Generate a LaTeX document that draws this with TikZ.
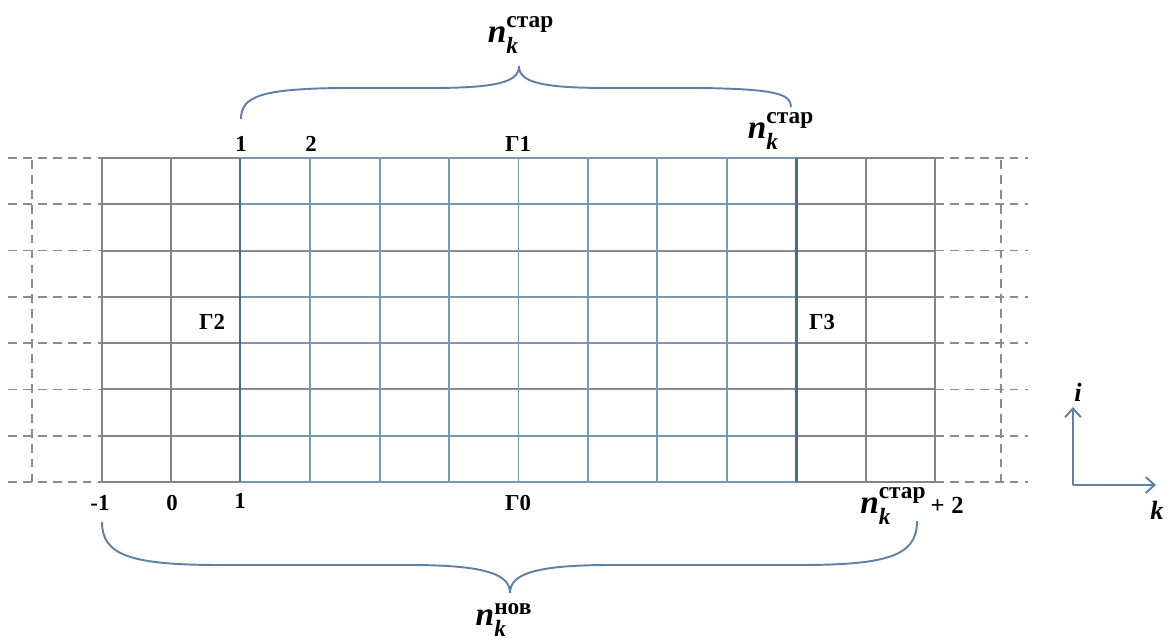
\documentclass[tikz,border=0pt]{standalone}
\usepackage{amsmath}
\usepackage{fontspec}
\setmainfont{Liberation Serif}
\usetikzlibrary{arrows.meta}
\definecolor{gridgray}{HTML}{858585}
\definecolor{gridblue}{HTML}{7C96B6}
\definecolor{edgeblue}{HTML}{4E6A8F}
\definecolor{dashgray}{HTML}{8C8C8C}
\definecolor{bracecol}{HTML}{5F80A7}
\newcommand{\nidx}[1]{$\textbf{\textit{n}}_{\textbf{\textit{k}}}^{\textbf{#1}}$}

\begin{document}
\begin{tikzpicture}[x=0.02cm,y=-0.02cm,
    cell/.style={gridgray,line width=1.1pt},
    inner/.style={gridblue,line width=1pt},
    bound/.style={edgeblue,line width=1.7pt},
    ghost/.style={dashgray,line width=1pt,dash pattern=on 5pt off 3.5pt},
    brace/.style={bracecol,line width=1.1pt},
    axis/.style={bracecol,line width=1.1pt,-{Straight Barb[length=5pt,width=9pt]}},
    lbl/.style={font=\fontsize{13}{15}\selectfont\bfseries,inner sep=1pt},
    big/.style={font=\fontsize{19}{21}\selectfont,inner sep=0pt}]

    \useasboundingbox (0,0) rectangle (1176,639);

    % dashed continuation on both sides
    \foreach \r in {0,...,7} {
      \draw[ghost] (8,158+46.29*\r) -- (102,158+46.29*\r);
      \draw[ghost] (935,158+46.29*\r) -- (1028,158+46.29*\r);
    }
    \draw[ghost] (32,160) -- (32,485);
    \draw[ghost] (1001,160) -- (1001,485);

    % grid
    \foreach \r in {0,...,7}
      \draw[cell] (102,158+46.29*\r) -- (935,158+46.29*\r);
    \foreach \c in {0,1,11,12}
      \draw[cell] (102+69.42*\c,158) -- (102+69.42*\c,482);
    \foreach \r in {0,...,7}
      \draw[inner] (240,158+46.29*\r) -- (796,158+46.29*\r);
    \foreach \c in {3,...,9}
      \draw[inner] (102+69.42*\c,158) -- (102+69.42*\c,482);
    \draw[bound] (240,158) -- (240,482);
    \draw[bound] (796,158) -- (796,482);

    % index labels
    \node[lbl] (t1) at (241,144) {1};
    \node[lbl] (t2) at (311,144) {2};
    \node[lbl] (g1) at (518,144) {Г1};
    \node[lbl] (g2) at (212,322) {Г2};
    \node[lbl] (g3) at (822,322) {Г3};
    \node[lbl] (bm1) at (100,503) {-1};
    \node[lbl] (b0) at (172,503) {0};
    \node[lbl] (b1) at (240,501) {1};
    \node[lbl] (g0) at (518,503) {Г0};
    \node[big] (nend) at (781,131) {\nidx{стар}};
    \node[big] (nlast) at (912,506) {\nidx{стар}{\fontsize{14}{16}\selectfont\bfseries\,+\;2}};

    % braces
    \coordinate (tl) at (241,119);
    \coordinate (tr) at (791,107);
    \coordinate (ttip) at (519,66);
    \draw[brace] (tl) .. controls (241,96) and (262,89) .. (340,88)
      -- (430,88) .. controls (498,88) and (519,82) .. (ttip)
      .. controls (519,82) and (540,88) .. (608,88)
      -- (700,88) .. controls (776,89) and (791,94) .. (tr);
    \node[big] (ntop) at (521,35) {\nidx{стар}};

    \coordinate (bl) at (102,522);
    \coordinate (br) at (917,521);
    \coordinate (btip) at (510,593);
    \draw[brace] (bl) .. controls (102,555) and (130,565) .. (220,565)
      -- (410,565) .. controls (488,565) and (510,575) .. (btip)
      .. controls (510,575) and (532,565) .. (610,565)
      -- (800,565) .. controls (890,565) and (917,555) .. (br);
    \node[big] (nnew) at (504,620) {\nidx{нов}};

    % axes
    \coordinate (o) at (1073,485);
    \coordinate (iend) at (1073,407);
    \coordinate (kend) at (1156,485);
    \draw[axis] (o) -- (iend);
    \draw[axis] (o) -- (kend);
    \node[lbl,font=\fontsize{15}{17}\selectfont\bfseries\itshape] (iax) at (1078,392) {i};
    \node[lbl,font=\fontsize{15}{17}\selectfont\bfseries\itshape] (kax) at (1157,510) {k};
  \end{tikzpicture}
\end{document}
